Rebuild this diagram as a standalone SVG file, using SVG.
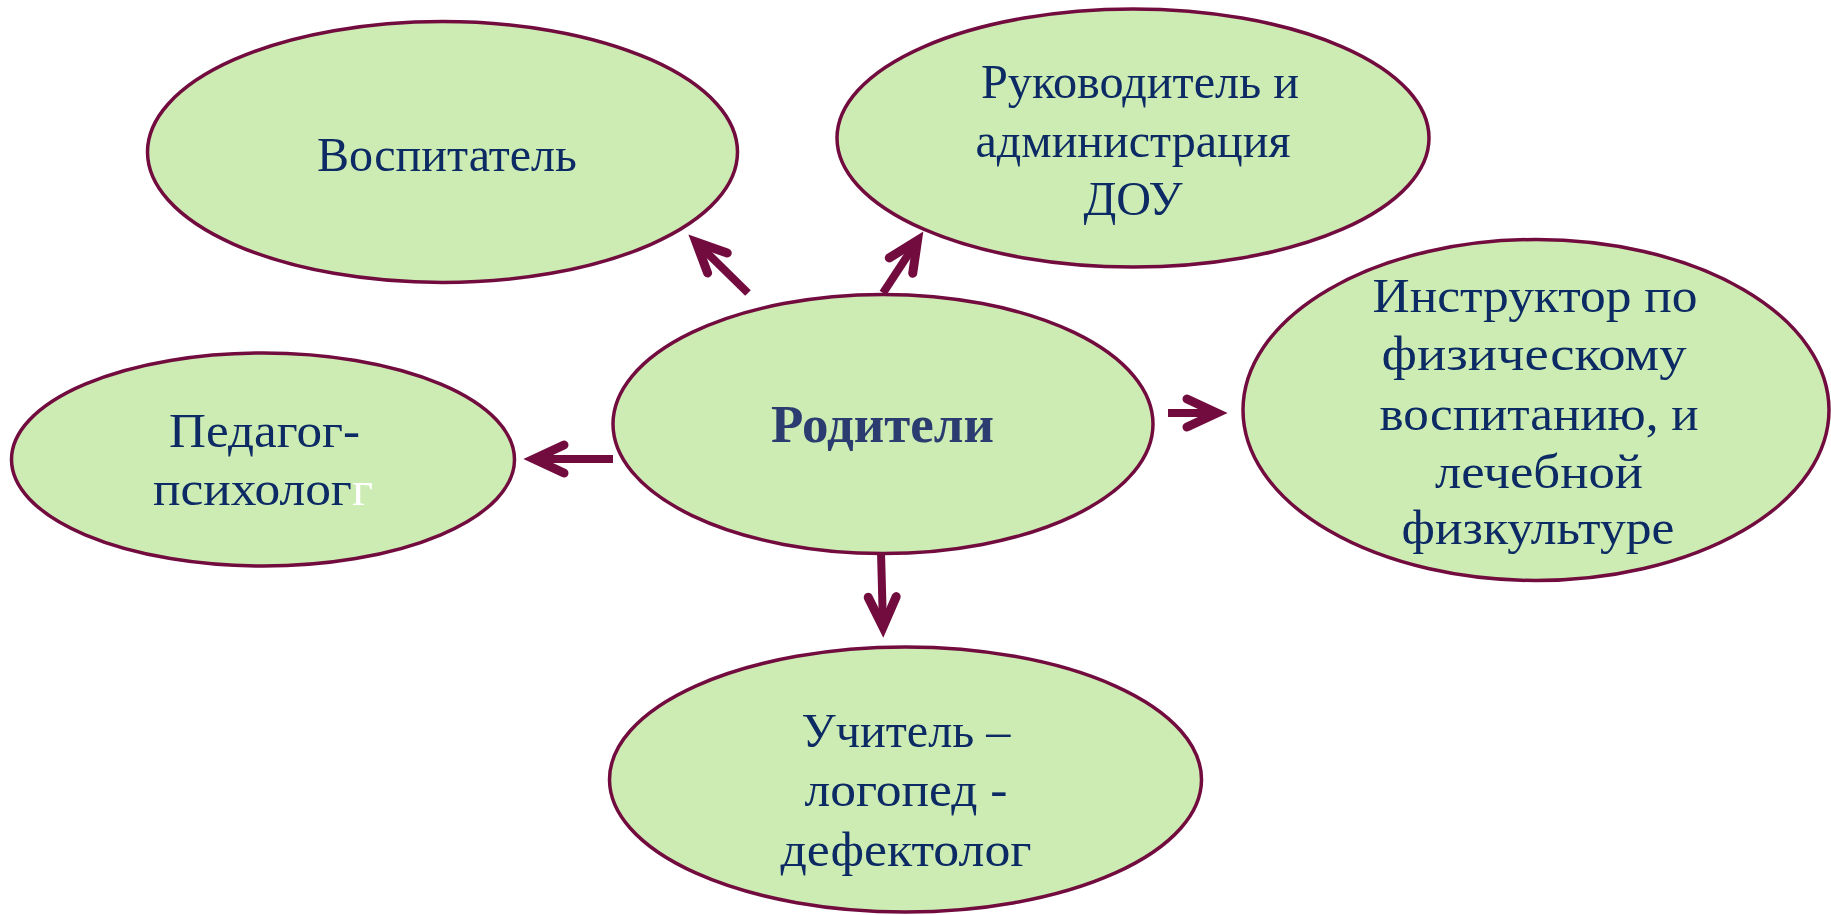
<svg xmlns="http://www.w3.org/2000/svg" width="1831" height="915" viewBox="0 0 1831 915">
<style>
.node{fill:#cdecb3;stroke:#720c3f;stroke-width:3.5}
.t{font-family:"Liberation Serif","Times New Roman",serif;font-size:49px;fill:#0c2a64;text-anchor:middle}
.tb{font-family:"Liberation Serif","Times New Roman",serif;font-size:53px;font-weight:bold;fill:#2b3d70;text-anchor:middle}
.c{stroke:#720c3f;stroke-width:8;fill:none;marker-end:url(#ah)}
</style>
<defs>
<marker id="ah" markerUnits="userSpaceOnUse" viewBox="-40 -25 60 50" markerWidth="60" markerHeight="50" refX="0" refY="0" orient="auto">
<path d="M-30,-14 L0,0 L-30,14" fill="none" stroke="#720c3f" stroke-width="9" stroke-linecap="round" stroke-linejoin="miter"/>
</marker>
</defs>
<rect width="1831" height="915" fill="#ffffff"/>
<g id="vospitatel">
<ellipse class="node" cx="442.5" cy="152" rx="295" ry="130.5"/>
<text class="t" x="447" y="171" textLength="260" lengthAdjust="spacingAndGlyphs">Воспитатель</text>
</g>
<g id="rukovoditel">
<ellipse class="node" cx="1133" cy="138" rx="296" ry="129"/>
<text class="t" x="1140" y="98" textLength="318" lengthAdjust="spacingAndGlyphs">Руководитель и</text>
<text class="t" x="1133" y="157" textLength="315" lengthAdjust="spacingAndGlyphs">администрация</text>
<text class="t" x="1133" y="215" textLength="99" lengthAdjust="spacingAndGlyphs">ДОУ</text>
</g>
<g id="instruktor">
<ellipse class="node" cx="1536" cy="410" rx="293" ry="170.5"/>
<text class="t" x="1535" y="312" textLength="325" lengthAdjust="spacingAndGlyphs">Инструктор по</text>
<text class="t" x="1534" y="370" textLength="305" lengthAdjust="spacingAndGlyphs">физическому</text>
<text class="t" x="1539" y="430" textLength="319" lengthAdjust="spacingAndGlyphs">воспитанию, и</text>
<text class="t" x="1539" y="488" textLength="208" lengthAdjust="spacingAndGlyphs">лечебной</text>
<text class="t" x="1538" y="544" textLength="273" lengthAdjust="spacingAndGlyphs">физкультуре</text>
</g>
<g id="roditeli">
<ellipse class="node" cx="883" cy="424" rx="270" ry="129.5"/>
<text class="tb" x="882.5" y="442" textLength="223" lengthAdjust="spacingAndGlyphs">Родители</text>
</g>
<g id="psiholog">
<ellipse class="node" cx="263" cy="459.5" rx="251.5" ry="106.5"/>
<text class="t" x="264.5" y="447" textLength="191" lengthAdjust="spacingAndGlyphs">Педагог-</text>
<text class="t" x="263" y="505" textLength="220" lengthAdjust="spacingAndGlyphs">психолог<tspan fill="#ffffff">г</tspan></text>
</g>
<g id="logoped">
<ellipse class="node" cx="905.5" cy="779.5" rx="296" ry="132.5"/>
<text class="t" x="906" y="747" textLength="209" lengthAdjust="spacingAndGlyphs">Учитель –</text>
<text class="t" x="906" y="806" textLength="203" lengthAdjust="spacingAndGlyphs">логопед -</text>
<text class="t" x="906" y="866" textLength="251" lengthAdjust="spacingAndGlyphs">дефектолог</text>
</g>
<g id="connectors">
<line class="c" x1="748" y1="293" x2="696" y2="242"/>
<line class="c" x1="883" y1="293" x2="917.5" y2="240.5"/>
<line class="c" x1="613" y1="459" x2="534" y2="459"/>
<line class="c" x1="1168" y1="413" x2="1217" y2="413"/>
<line class="c" x1="881" y1="552" x2="883" y2="627"/>
</g>
</svg>
